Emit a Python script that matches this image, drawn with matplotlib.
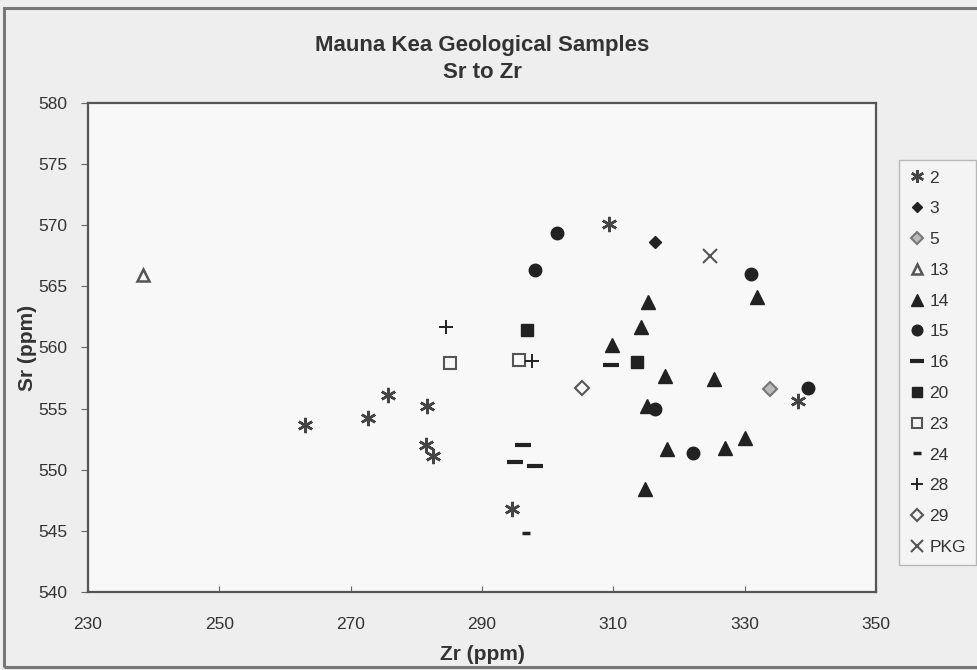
import matplotlib
matplotlib.use("Agg")
import matplotlib.pyplot as plt
from matplotlib.patches import Rectangle
from matplotlib.lines import Line2D

# ---- data (Zr ppm, Sr ppm) ----
s2_x = [263.1, 272.7, 275.7, 281.7, 281.5, 282.6, 294.6, 309.4, 338.1]
s2_y = [553.7, 554.2, 556.1, 555.2, 552.0, 551.1, 546.8, 570.1, 555.6]
s3_x = [316.3]
s3_y = [568.6]
s5_x = [333.8]
s5_y = [556.6]
s13_x = [238.4]
s13_y = [565.9]
s14_x = [315.3, 314.2, 309.8, 317.9, 325.4, 331.9, 315.1, 318.2, 327.0, 330.0, 314.8]
s14_y = [563.7, 561.7, 560.2, 557.7, 557.4, 564.1, 555.2, 551.7, 551.8, 552.6, 548.4]
s15_x = [301.4, 298.0, 330.9, 316.4, 322.2, 339.6]
s15_y = [569.4, 566.3, 566.0, 555.0, 551.4, 556.7]
s16_x = [309.6, 296.2, 295.1, 298.1]
s16_y = [558.6, 552.0, 550.6, 550.3]
s20_x = [296.9, 313.6]
s20_y = [561.4, 558.8]
s23_x = [285.1, 295.7]
s23_y = [558.7, 559.0]
s24_x = [296.7]
s24_y = [544.8]
s28_x = [284.5, 297.6]
s28_y = [561.7, 558.9]
s29_x = [305.2]
s29_y = [556.7]
pkg_x = [324.7]
pkg_y = [567.5]

series_names = ["2", "3", "5", "13", "14", "15", "16", "20", "23", "24", "28", "29", "PKG"]
x_ticks = [230, 250, 270, 290, 310, 330, 350]
y_ticks = [540, 545, 550, 555, 560, 565, 570, 575, 580]

DARK = "#222222"
GREY = "#555555"

styles = {
    "2":   dict(marker=(6, 2, 0), ms=11, mec="#444444", mfc="none", mew=1.8),
    "3":   dict(marker="D", ms=6, mec=DARK, mfc=DARK, mew=1),
    "5":   dict(marker="D", ms=7, mec="#777777", mfc="#bbbbbb", mew=1.5),
    "13":  dict(marker="^", ms=8, mec=GREY, mfc="none", mew=1.8),
    "14":  dict(marker="^", ms=10, mec=DARK, mfc=DARK, mew=1),
    "15":  dict(marker="o", ms=9, mec=DARK, mfc=DARK, mew=1),
    "16":  dict(marker="_", ms=12, mec=DARK, mfc=DARK, mew=3),
    "20":  dict(marker="s", ms=8.5, mec=DARK, mfc=DARK, mew=1),
    "23":  dict(marker="s", ms=8, mec=GREY, mfc="none", mew=1.5),
    "24":  dict(marker="_", ms=6, mec=DARK, mfc=DARK, mew=2.5),
    "28":  dict(marker="+", ms=10, mec=DARK, mfc=DARK, mew=1.4),
    "29":  dict(marker="D", ms=7, mec=GREY, mfc="none", mew=1.5),
    "PKG": dict(marker="x", ms=10, mec=GREY, mfc=DARK, mew=1.5),
}
data = {
    "2": (s2_x, s2_y), "3": (s3_x, s3_y), "5": (s5_x, s5_y), "13": (s13_x, s13_y),
    "14": (s14_x, s14_y), "15": (s15_x, s15_y), "16": (s16_x, s16_y),
    "20": (s20_x, s20_y), "23": (s23_x, s23_y), "24": (s24_x, s24_y),
    "28": (s28_x, s28_y), "29": (s29_x, s29_y), "PKG": (pkg_x, pkg_y),
}

NARROW = ["Liberation Sans Narrow", "Liberation Sans", "DejaVu Sans"]

fig = plt.figure(figsize=(9.77, 6.70), dpi=100, facecolor="#eeeeee")
# outer chart frame
fig.patches.append(Rectangle((4 / 977, 3 / 670), 1.2, 659 / 670, transform=fig.transFigure,
                             fill=False, edgecolor="#777777", linewidth=2.2))

ax = fig.add_axes([88 / 977, 1 - 592 / 670, (876 - 88) / 977, (592 - 103) / 670])
ax.set_facecolor("#f8f8f8")

handles = []
for name in series_names:
    xs, ys = data[name]
    st = styles[name]
    ax.plot(xs, ys, linestyle="none", marker=st["marker"], markersize=st["ms"],
            markeredgecolor=st["mec"], markerfacecolor=st["mfc"], markeredgewidth=st["mew"])
    lst = dict(st)
    ms = lst.pop("ms") * 0.85
    handles.append(Line2D([], [], linestyle="none", marker=lst["marker"], markersize=ms,
                          markeredgecolor=lst["mec"], markerfacecolor=lst["mfc"],
                          markeredgewidth=lst["mew"], label=name))

ax.set_xlim(230, 350)
ax.set_ylim(540, 580)
ax.set_xticks(x_ticks)
ax.set_yticks(y_ticks)
ax.set_xticklabels([str(v) for v in x_ticks], fontfamily=NARROW, fontsize=12.5, color="#333333")
ax.set_yticklabels([str(v) for v in y_ticks], fontfamily=NARROW, fontsize=12.5, color="#333333")
ax.tick_params(axis="x", direction="in", length=4, pad=18, color="#666666")
ax.tick_params(axis="y", direction="out", length=5, pad=10, color="#666666")
for sp in ax.spines.values():
    sp.set_color("#555555")
    sp.set_linewidth(1.6)

ax.set_xlabel("Zr (ppm)", fontfamily=NARROW, fontsize=15, fontweight="bold", color="#333333")
ax.set_ylabel("Sr (ppm)", fontfamily=NARROW, fontsize=15, fontweight="bold", color="#333333")
ax.xaxis.set_label_coords(0.5, -(655 - 592) / 489, transform=ax.transAxes)
ax.yaxis.set_label_coords(-(88 - 28) / 788, 0.5, transform=ax.transAxes)
ax.xaxis.label.set_va("center")
ax.yaxis.label.set_va("center")

fig.text(482 / 977, 1 - 45 / 670, "Mauna Kea Geological Samples", ha="center", va="center",
         fontfamily=NARROW, fontsize=16, fontweight="bold", color="#333333")
fig.text(482 / 977, 1 - 73 / 670, "Sr to Zr", ha="center", va="center",
         fontfamily=NARROW, fontsize=16, fontweight="bold", color="#333333")

leg = fig.legend(handles=handles, loc="upper left", bbox_to_anchor=(899 / 977, 1 - 160 / 670),
                 frameon=True, fancybox=False, labelspacing=0.9,
                 handlelength=0.9, handletextpad=0.25, borderpad=0.6, borderaxespad=0,
                 prop={"family": ["Liberation Sans", "DejaVu Sans"], "size": 12.5})
leg.get_frame().set_edgecolor("#aaaaaa")
leg.get_frame().set_facecolor("#f6f6f6")
leg.get_frame().set_linewidth(1.0)
for t in leg.get_texts():
    t.set_color("#333333")

fig.savefig("out.png", dpi=100, facecolor=fig.get_facecolor())
